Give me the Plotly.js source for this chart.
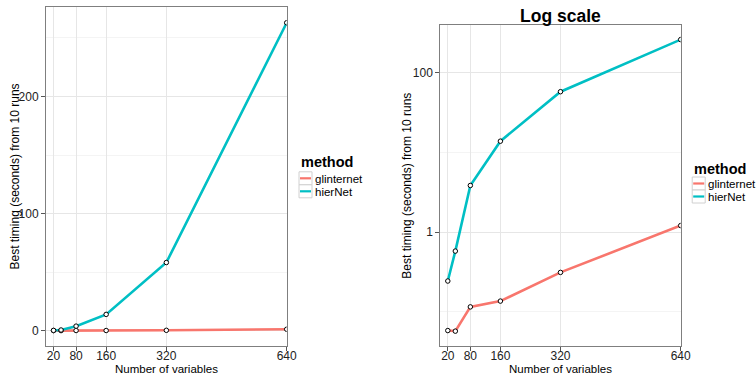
<!DOCTYPE html>
<html>
<head>
<meta charset="utf-8">
<script src="https://cdn.plot.ly/plotly-3.0.1.min.js"></script>
<style>html,body{margin:0;padding:0;background:#fff;}#chart{width:756px;height:375px;}</style>
</head>
<body>
<div id="chart"></div>
<script>
// ---- data ----
const numVars = [20, 40, 80, 160, 320, 640];
const glinternet = [0.058, 0.057, 0.115, 0.136, 0.312, 1.21];
const hierNet = [0.243, 0.578, 3.86, 13.9, 58.2, 263];
const methods = ['glinternet', 'hierNet'];
const methodColors = ['#F8766D', '#00BFC4'];
const xTicks = [20, 80, 160, 320, 640];
const yTicksLin = [0, 100, 200];
const yMinorLin = [50, 150, 250];
const yTicksLog = [1, 100];
const yTickLogText = ['1', '100'];
const yMinorLog = [0.1, 10];
const xTitle = 'Number of variables';
const yTitle = 'Best timing (seconds) from 10 runs';
const legendTitle = 'method';
const rightTitle = 'Log scale';

const series = [glinternet, hierNet];
const W = 756, H = 375;
const px = v => v / W;
const py = v => 1 - v / H;
const FONT = 'Liberation Sans, Arial, Helvetica, sans-serif';

const traces = [];
[['x', 'y'], ['x2', 'y2']].forEach(([xa, ya]) => {
  series.forEach((s, i) => {
    traces.push({x: numVars, y: s, xaxis: xa, yaxis: ya, type: 'scatter', mode: 'lines',
      name: methods[i], showlegend: false, hoverinfo: 'skip',
      line: {color: methodColors[i], width: 2.6}});
  });
  series.forEach((s, i) => {
    traces.push({x: numVars, y: s, xaxis: xa, yaxis: ya, type: 'scatter', mode: 'markers',
      name: methods[i], showlegend: false,
      marker: {color: '#ffffff', size: 4.5, line: {color: '#000000', width: 1}}});
  });
});

const axisCommon = {
  showline: true, mirror: true, linecolor: '#7f7f7f', linewidth: 1,
  ticks: 'outside', ticklen: 4, tickcolor: '#555555', tickwidth: 1,
  showgrid: true, gridcolor: '#e6e6e6', gridwidth: 1, zeroline: false,
  tickfont: {family: FONT, size: 12, color: '#222222'}, fixedrange: true
};

const layout = {
  width: W, height: H,
  margin: {l: 0, r: 0, t: 0, b: 0},
  paper_bgcolor: '#ffffff', plot_bgcolor: '#ffffff',
  showlegend: false,
  font: {family: FONT, size: 12, color: '#000000'},
  xaxis: Object.assign({}, axisCommon, {domain: [px(46), px(286.7)], range: [0, 640],
    tickmode: 'array', tickvals: xTicks, ticktext: xTicks.map(String), anchor: 'y', ticklabelstandoff: -5}),
  yaxis: Object.assign({}, axisCommon, {domain: [py(346), py(7.3)], range: [-13.1, 276.2],
    tickmode: 'array', tickvals: yTicksLin, ticktext: yTicksLin.map(String), anchor: 'x',
    minor: {tickmode: 'array', tickvals: yMinorLin, showgrid: true, gridcolor: '#f4f4f4', ticks: ''}}),
  xaxis2: Object.assign({}, axisCommon, {domain: [px(440.3), px(680.7)], range: [0, 640],
    tickmode: 'array', tickvals: xTicks, ticktext: xTicks.map(String), anchor: 'y2', ticklabelstandoff: -5}),
  yaxis2: Object.assign({}, axisCommon, {type: 'log', domain: [py(345.7), py(25)], range: [-1.427, 2.603],
    tickmode: 'array', tickvals: yTicksLog, ticktext: yTickLogText, anchor: 'x2',
    minor: {tickmode: 'array', tickvals: yMinorLog, showgrid: true, gridcolor: '#f4f4f4', ticks: ''}}),
  annotations: [],
  shapes: []
};

const ann = (text, x, y, opts) => Object.assign({text: text, x: px(x), y: py(y), xref: 'paper', yref: 'paper',
  showarrow: false, xanchor: 'center', yanchor: 'middle',
  font: {family: FONT, size: 12, color: '#000000'}}, opts || {});

// axis titles
const xTitleFont = {family: FONT, size: 11.5, color: '#000000'};
layout.annotations.push(ann(xTitle, 166.4, 369.3, {font: xTitleFont, borderpad: 0}));
layout.annotations.push(ann(xTitle, 560.5, 369.3, {font: xTitleFont, borderpad: 0}));
layout.annotations.push(ann(yTitle, 14, 176.5, {textangle: -90}));
layout.annotations.push(ann(yTitle, 407.3, 185.4, {textangle: -90}));
// panel title
layout.annotations.push(ann(rightTitle, 560.4, 16, {font: {family: FONT, size: 17.5, color: '#000000', weight: 'bold'}}));

// legends
function addLegend(x0, titleY, row0) {
  layout.annotations.push(ann('<b>' + legendTitle + '</b>', x0, titleY,
    {xanchor: 'left', font: {family: FONT, size: 14.5, color: '#000000'}}));
  const kw = 13, kh = 13;
  methods.forEach((m, i) => {
    const cy = row0 + i * kh;
    layout.shapes.push({type: 'rect', xref: 'paper', yref: 'paper',
      x0: px(x0 + 0.5), x1: px(x0 + 0.5 + kw), y0: py(cy - kh / 2), y1: py(cy + kh / 2),
      line: {color: '#d0d0d0', width: 1}, fillcolor: '#ffffff', layer: 'above'});
    layout.shapes.push({type: 'line', xref: 'paper', yref: 'paper',
      x0: px(x0 + 1.5), x1: px(x0 + kw - 0.5), y0: py(cy), y1: py(cy),
      line: {color: methodColors[i], width: 2.2}, layer: 'above'});
    layout.annotations.push(ann(m, x0 + kw + 1.5, cy + 0.5, {xanchor: 'left', font: {family: FONT, size: 11.5, color: '#000000'}}));
  });
}
addLegend(298.5, 161.5, 178.3);
addLegend(691.7, 169.5, 183.5);

Plotly.newPlot('chart', traces, layout, {displayModeBar: false, staticPlot: true});
</script>
</body>
</html>
